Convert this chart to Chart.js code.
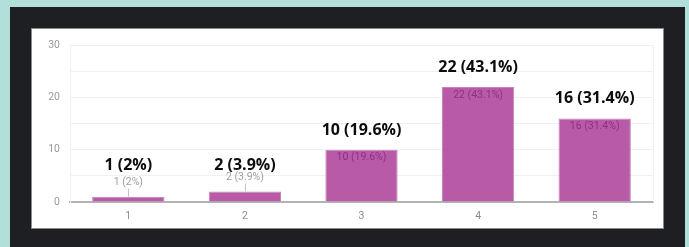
<!DOCTYPE html>
<html lang="en">
<head>
    <meta charset="UTF-8">
    <title>Rating distribution</title>
    <script src="https://cdn.jsdelivr.net/npm/chart.js"></script>
    <style>
        html, body { margin: 0; padding: 0; }
        body { width: 689px; height: 247px; background: #b3dfdb; position: relative; overflow: hidden; }
        .frame { position: absolute; left: 10px; top: 7px; width: 675px; height: 250px; background: #1e1f22; }
        .panel { position: absolute; left: 32px; top: 29px; width: 631px; height: 199px; background: #fff; box-shadow: 0 0 0 1px #8a8a8a; }
        canvas { display: block; }
    </style>
</head>
<body>
<div class="frame"></div>
<div class="panel">
    <canvas id="ratingChart" width="631" height="199"></canvas>
</div>

<script>
    // data
    const categories = ['1', '2', '3', '4', '5'];
    const counts = [1, 2, 10, 22, 16];
    const percents = ['2%', '3.9%', '19.6%', '43.1%', '31.4%'];

    const barColor = '#b85aa6';

    // value labels: small one on/above the bar, big bold one above it
    const labelPlugin = {
        id: 'barLabels',
        beforeDatasetsDraw(chart) {
            const { ctx, chartArea } = chart;
            ctx.save();
            ctx.strokeStyle = '#efefef';
            ctx.lineWidth = 1;
            ctx.beginPath();
            ctx.moveTo(chartArea.right + 0.5, chartArea.top);
            ctx.lineTo(chartArea.right + 0.5, chartArea.bottom);
            ctx.stroke();
            ctx.restore();
        },
        afterDatasetsDraw(chart) {
            const { ctx } = chart;
            const yScale = chart.scales.y;
            const meta = chart.getDatasetMeta(0);
            ctx.save();
            ctx.textAlign = 'center';
            ctx.textBaseline = 'middle';
            meta.data.forEach((bar, i) => {
                const text = counts[i] + ' (' + percents[i] + ')';
                const top = bar.y;
                const inside = counts[i] >= 5;

                ctx.font = '10.5px Roboto';
                if (inside) {
                    ctx.fillStyle = '#8a3287';
                    ctx.fillText(text, bar.x, top + 8);
                } else {
                    ctx.fillStyle = '#a0a0a0';
                    ctx.fillText(text, bar.x, top - 14.5);
                    ctx.strokeStyle = '#c4c4c4';
                    ctx.lineWidth = 1;
                    ctx.beginPath();
                    ctx.moveTo(Math.round(bar.x) + 0.5, top - 8);
                    ctx.lineTo(Math.round(bar.x) + 0.5, top);
                    ctx.stroke();
                }

                ctx.font = '700 16px "Open Sans"';
                ctx.fillStyle = '#0d0d0d';
                const bigY = Math.min(top - 19.5, yScale.getPixelForValue(7));
                ctx.fillText(text, bar.x, bigY);
            });
            ctx.restore();
        }
    };

    const ctx = document.getElementById('ratingChart').getContext('2d');

    new Chart(ctx, {
        type: 'bar',
        data: {
            labels: categories,
            datasets: [{
                data: counts,
                backgroundColor: barColor,
                borderColor: '#c880bb',
                borderWidth: 1,
                borderSkipped: 'bottom',
                categoryPercentage: 1,
                barPercentage: 0.62
            }]
        },
        options: {
            responsive: false,
            animation: false,
            layout: {
                padding: { left: 0, right: 10, top: 14, bottom: 0 }
            },
            plugins: {
                legend: { display: false },
                tooltip: { enabled: false }
            },
            scales: {
                x: {
                    grid: { display: false, drawTicks: false },
                    border: { display: true, color: '#b3b3b3', width: 2 },
                    ticks: {
                        color: '#8c8c8c',
                        font: { family: 'Roboto', size: 10.5 },
                        padding: 8
                    },
                    afterFit(scale) { scale.height = 26; }
                },
                y: {
                    min: 0,
                    max: 30,
                    grid: {
                        drawTicks: false,
                        color: (c) => c.tick && c.tick.value === 0 ? 'rgba(0,0,0,0)' : '#f0f0f0'
                    },
                    border: { display: true, color: '#efefef', width: 1 },
                    ticks: {
                        stepSize: 5,
                        color: '#9a9a9a',
                        font: { family: 'Roboto', size: 10.5 },
                        padding: 10,
                        callback: (v) => v % 10 === 0 ? v : ''
                    },
                    afterFit(scale) { scale.width = 38; }
                }
            }
        },
        plugins: [labelPlugin]
    });
</script>
</body>
</html>
